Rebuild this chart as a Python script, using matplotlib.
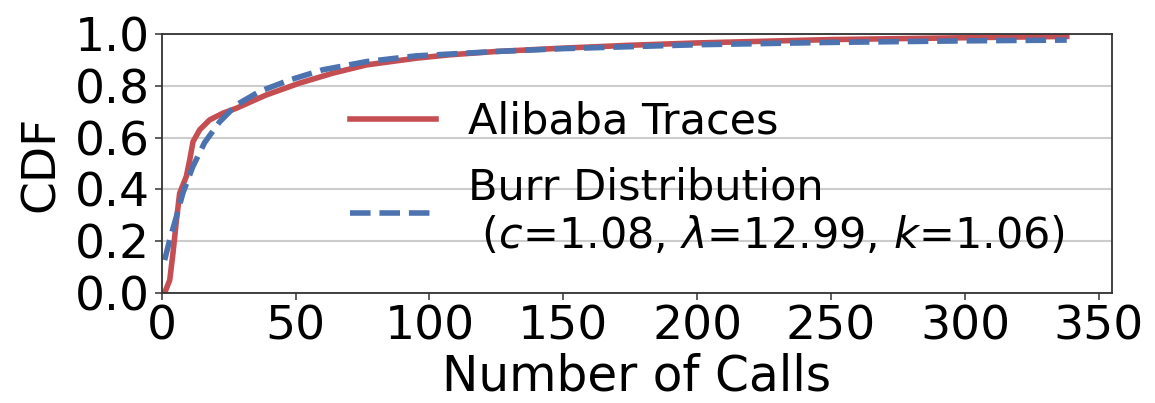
import numpy as np
import matplotlib
matplotlib.use("Agg")
import matplotlib.pyplot as plt

# values
trace_x = [1.1, 3.0, 4.2, 5.5, 6.7, 9.2, 10.4, 11.7, 14.2, 17.9, 22.9, 27.9, 39, 51.5,
           63.8, 76.4, 95, 107.5, 125, 150, 175, 200, 250, 300, 338]
trace_y = [0.0, 0.05, 0.153, 0.28, 0.385, 0.45, 0.51, 0.584, 0.63, 0.668, 0.694, 0.713,
           0.764, 0.81, 0.848, 0.88, 0.906, 0.919, 0.932, 0.945, 0.956, 0.965, 0.978,
           0.985, 0.99]

burr_x = [1.1, 3.0, 5.5, 7.9, 11.6, 16, 21.6, 27.9, 36.6, 47.8, 60, 76.5, 95, 125,
          150, 200, 250, 300, 338]
burr_y = [0.127, 0.205, 0.295, 0.385, 0.487, 0.58, 0.66, 0.726, 0.778, 0.822, 0.861,
          0.893, 0.915, 0.932, 0.943, 0.958, 0.967, 0.973, 0.976]

xticks = [0, 50, 100, 150, 200, 250, 300, 350]
yticks = [0.0, 0.2, 0.4, 0.6, 0.8, 1.0]

red = '#C44E52'
blue = '#4C72B0'

fig = plt.figure(figsize=(11.55, 4.03), dpi=100)
ax = fig.add_axes([0.140, 0.273, 0.823, 0.643])

ax.plot(trace_x, trace_y, color=red, lw=4, label='Alibaba Traces')
ax.plot(burr_x, burr_y, color=blue, lw=4, ls='--',
        label='Burr Distribution\n ($c$=1.08, $\\lambda$=12.99, $k$=1.06)')

ax.set_xlim(0, 355)
ax.set_ylim(0, 1)
ax.set_xticks(xticks)
ax.set_yticks(yticks)
ax.set_yticklabels(['%.1f' % v for v in yticks])
ax.yaxis.grid(True, color='#cccccc', lw=1.5)
ax.set_axisbelow(True)

ax.tick_params(labelsize=34, length=5, width=1.1, color='#333333')
for s in ax.spines.values():
    s.set_color('#333333')
    s.set_linewidth(1.3)

ax.set_xlabel('Number of Calls', fontsize=35, labelpad=2)
ax.set_ylabel('CDF', fontsize=34, labelpad=8)

ax.legend(loc='center left', bbox_to_anchor=(0.18, 0.44), frameon=False,
          fontsize=31, handlelength=2.0, handletextpad=0.75, labelspacing=0.55,
          borderaxespad=0)

fig.savefig('out.png', dpi=100)
